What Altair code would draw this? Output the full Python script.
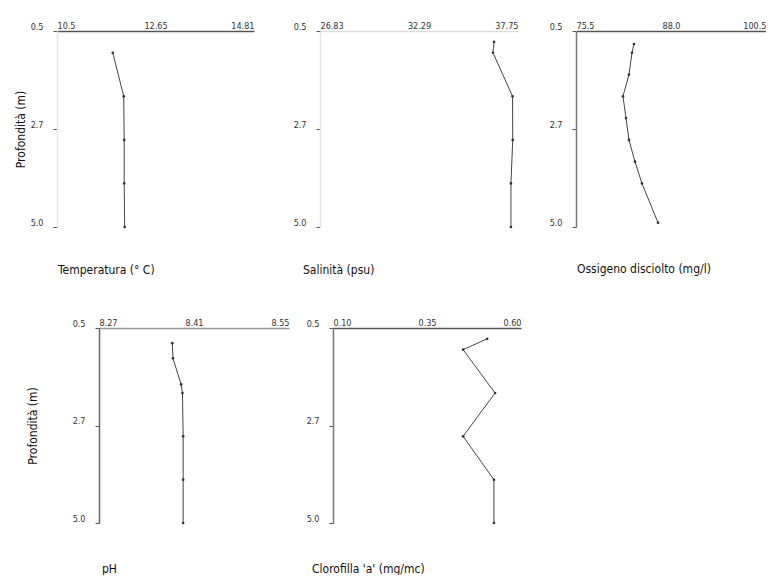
import altair as alt
import pandas as pd

FONT = "Liberation Sans Narrow, DejaVu Sans Condensed, Roboto, sans-serif"

# ---- data ----
temp_depth = [1.0, 2.0, 3.0, 4.0, 5.0]
temp_val = [11.72, 11.96, 11.97, 11.97, 11.98]

sal_depth = [0.75, 1.0, 2.0, 3.0, 4.0, 5.0]
sal_val = [36.43, 36.37, 37.45, 37.46, 37.36, 37.36]

oxy_depth = [0.8, 1.0, 1.5, 2.0, 2.5, 3.0, 3.5, 4.0, 4.9]
oxy_val = [83.13, 82.87, 82.47, 81.68, 82.08, 82.47, 83.26, 84.18, 86.29]

ph_depth = [0.85, 1.2, 1.8, 2.0, 3.0, 4.0, 5.0]
ph_val = [8.378, 8.379, 8.391, 8.393, 8.394, 8.394, 8.394]

chl_depth = [0.75, 1.0, 2.0, 3.0, 4.0, 5.0]
chl_val = [0.510, 0.446, 0.531, 0.446, 0.528, 0.528]

temp_ticks = [10.5, 12.655, 14.81]
temp_labels = ["10.5", "12.65", "14.81"]
sal_ticks = [26.83, 32.29, 37.75]
sal_labels = ["26.83", "32.29", "37.75"]
oxy_ticks = [75.5, 88.0, 100.5]
oxy_labels = ["75.5", "88.0", "100.5"]
ph_ticks = [8.27, 8.41, 8.55]
ph_labels = ["8.27", "8.41", "8.55"]
chl_ticks = [0.10, 0.35, 0.60]
chl_labels = ["0.10", "0.35", "0.60"]

depth_ticks = [0.5, 2.75, 5.0]
depth_domain = [0.5, 5.0]

titles = ["Temperatura (° C)", "Salinità (psu)", "Ossigeno disciolto (mg/l)",
          "pH", "Clorofilla 'a' (mg/mc)"]
ytitle = "Profondità (m)"


def label_expr(ticks, labels):
    a, b, c = ticks
    e1 = (a + b) / 2
    e2 = (b + c) / 2
    return (f"datum.value < {e1} ? '{labels[0]}' : "
            f"(datum.value < {e2} ? '{labels[1]}' : '{labels[2]}')")


def panel(depth, vals, ticks, labels, title, dx, w, h, show_ytitle,
          ytitle_pad, ydom, xdom, toff):
    df = pd.DataFrame({"d": depth, "v": vals})
    x = alt.X("v:Q",
              scale=alt.Scale(domain=[ticks[0], ticks[2]], nice=False, zero=False),
              axis=alt.Axis(orient="top", values=ticks,
                            labelExpr=label_expr(ticks, labels),
                            labelFlush=True, ticks=False, grid=False, title=None,
                            domainColor=xdom, domainWidth=1.3,
                            labelFont=FONT, labelFontSize=9, labelColor="#333",
                            labelPadding=1))
    y = alt.Y("d:Q",
              scale=alt.Scale(domain=depth_domain, reverse=True, nice=False, zero=False),
              axis=alt.Axis(values=depth_ticks,
                            labelExpr="datum.value == 2.75 ? '2.7' : format(datum.value, '.1f')",
                            title=ytitle if show_ytitle else None,
                            titleFont=FONT, titleFontSize=12, titleFontWeight="normal",
                            titleColor="#111", titlePadding=ytitle_pad,
                            grid=False, domainColor=ydom, domainWidth=1.5,
                            tickColor="#555", tickSize=4,
                            labelFont=FONT, labelFontSize=9, labelColor="#333",
                            labelPadding=10, labelBaseline="bottom"))
    base = alt.Chart(df)
    line = base.mark_line(color="#444", strokeWidth=1).encode(x=x, y=y, order="d:Q")
    pts = base.mark_circle(color="#333", size=7, opacity=1).encode(x=x, y=y)
    return (line + pts).properties(
        width=w, height=h,
        title=alt.TitleParams(text=title, orient="bottom", anchor="start",
                              frame="group", dx=dx, offset=toff,
                              font=FONT, fontSize=12, fontWeight="normal",
                              color="#111"))


def spacer():
    return alt.Chart(pd.DataFrame({"a": [0]})).mark_point(opacity=0).encode(
        x=alt.value(0), y=alt.value(0)).properties(width=1, height=1)


p1 = panel(temp_depth, temp_val, temp_ticks, temp_labels, titles[0], 1, 197, 196,
           True, 3, "#e6e6e6", "#555", 36)
p2 = panel(sal_depth, sal_val, sal_ticks, sal_labels, titles[1], -17, 198, 196,
           False, 3, "#e6e6e6", "#dddddd", 36)
p3 = panel(oxy_depth, oxy_val, oxy_ticks, oxy_labels, titles[2], 1, 190, 196,
           False, 3, "#777", "#555", 36)
p4 = panel(ph_depth, ph_val, ph_ticks, ph_labels, titles[3], 3, 190, 195,
           True, 33, "#666", "#999", 39)
p5 = panel(chl_depth, chl_val, chl_ticks, chl_labels, titles[4], -21, 188, 195,
           False, 3, "#777", "#555", 39)

row1 = alt.hconcat(spacer(),
                   alt.hconcat(p1, alt.hconcat(p2, p3, spacing=31), spacing=39),
                   spacing=0)
row2 = alt.hconcat(spacer(), alt.hconcat(p4, p5, spacing=17), spacing=12)

chart = alt.concat(row1, row2, columns=1, align="none", spacing=42).properties(
    padding={"left": 0, "top": 13, "right": 0, "bottom": 0}
).configure_view(stroke=None)

chart.save("out.html", embed_options={"renderer": "svg", "actions": False})
